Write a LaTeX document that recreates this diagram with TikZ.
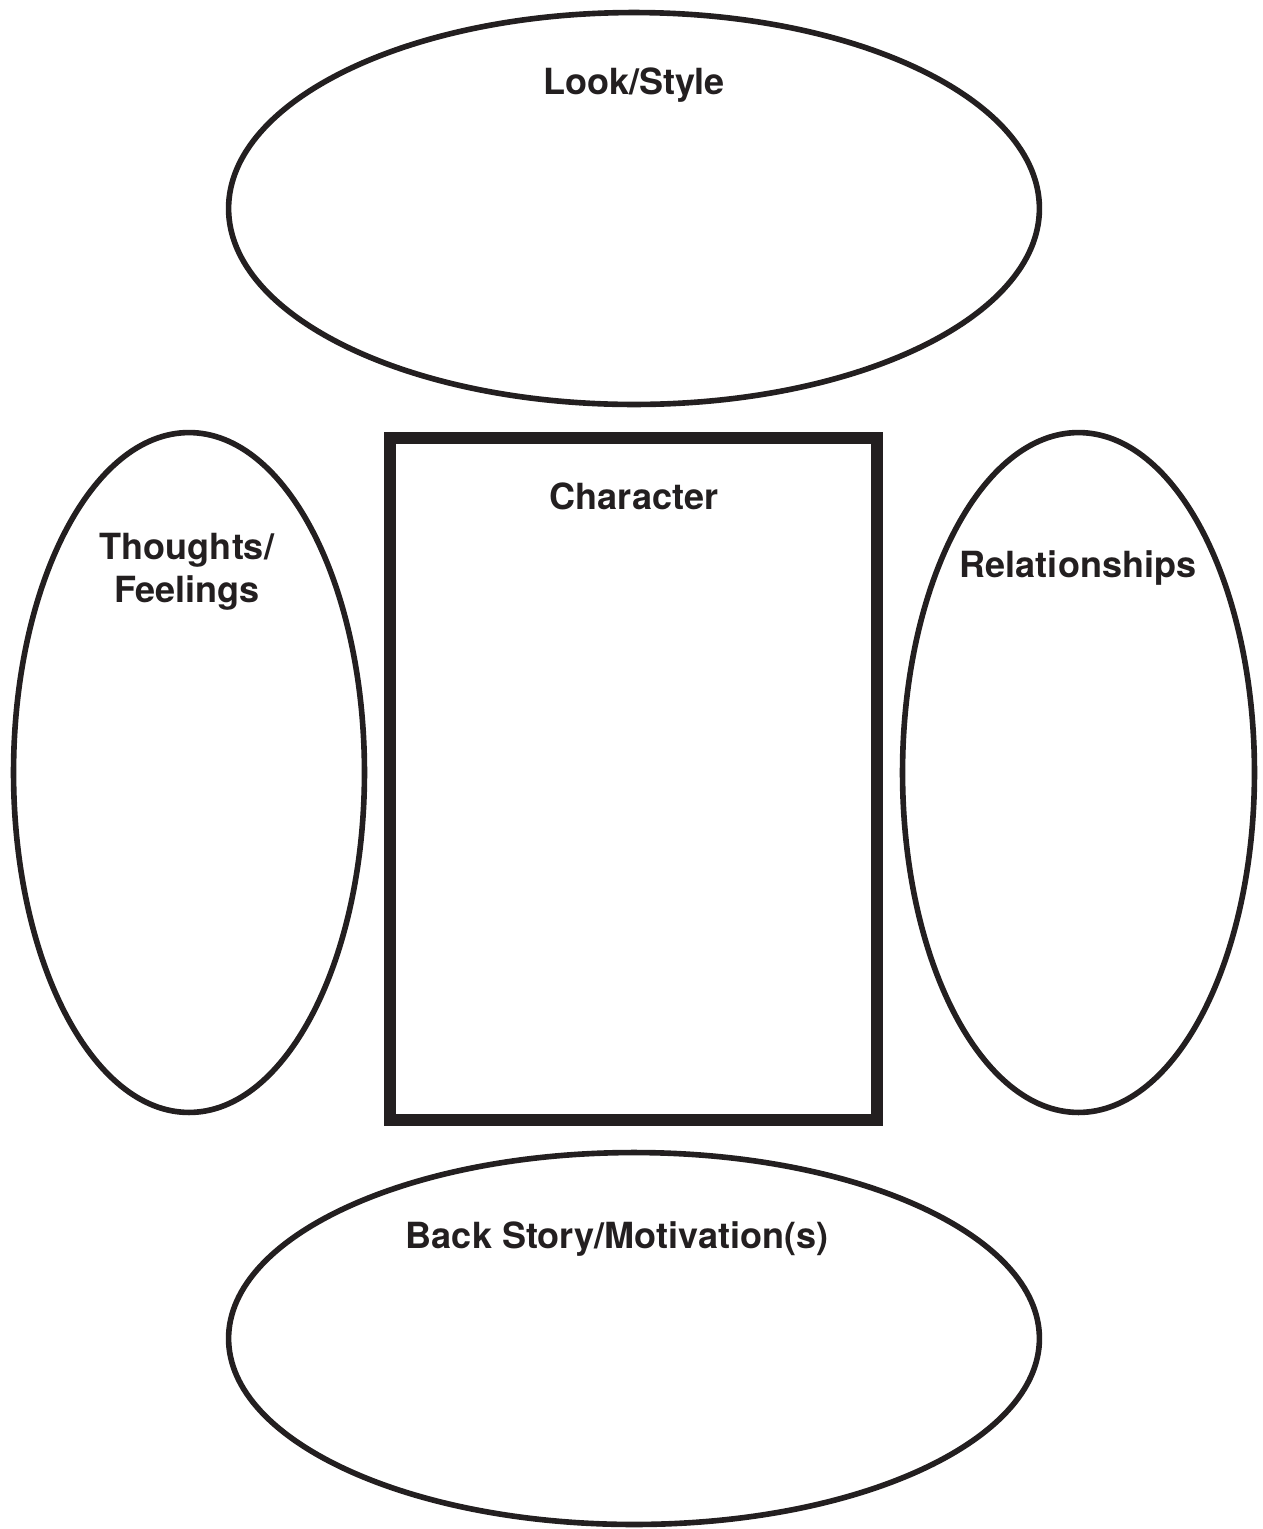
\documentclass[tikz,border=0pt]{standalone}
\usepackage{fontspec}
\setsansfont{TeX Gyre Heros}
\usetikzlibrary{positioning, shapes.geometric}
\definecolor{cink}{HTML}{231F20}
\tikzset{
  every picture/.style={font=\sffamily\bfseries\fontsize{20.5}{24.5}\selectfont},
  bubble/.style={draw=cink, ellipse, line width=3.2pt, inner sep=0pt},
  core/.style={draw=cink, line width=6.8pt, inner sep=0pt},
  tag/.style={text=cink, align=center, inner sep=0pt},
}
\begin{document}
\begin{tikzpicture}[x=0.02cm, y=-0.02cm]
  \useasboundingbox (0,0) rectangle (1263,1529);

  \node[bubble, minimum width=16.22cm, minimum height=7.84cm] (look) at (634,208.5) {};
  \node[tag] (looktxt) at (634,85) {Look/Style};

  \node[bubble, minimum width=7.02cm, minimum height=13.6cm] (thought) at (189,772.5) {};
  \node[tag] (thoughttxt) at (187,572) {Thoughts/\\Feelings};

  \node[core, minimum width=9.74cm, minimum height=13.64cm] (char) at (633.5,779) {};
  \node[tag] (chartxt) at (634,496) {Character};

  \node[bubble, minimum width=7.04cm, minimum height=13.6cm] (rel) at (1078.5,772.5) {};
  \node[tag] (reltxt) at (1078,568) {Relationships};

  \node[bubble, minimum width=16.22cm, minimum height=7.44cm] (back) at (634,1338.5) {};
  \node[tag] (backtxt) at (617,1239) {Back Story/Motivation(s)};
\end{tikzpicture}
\end{document}
